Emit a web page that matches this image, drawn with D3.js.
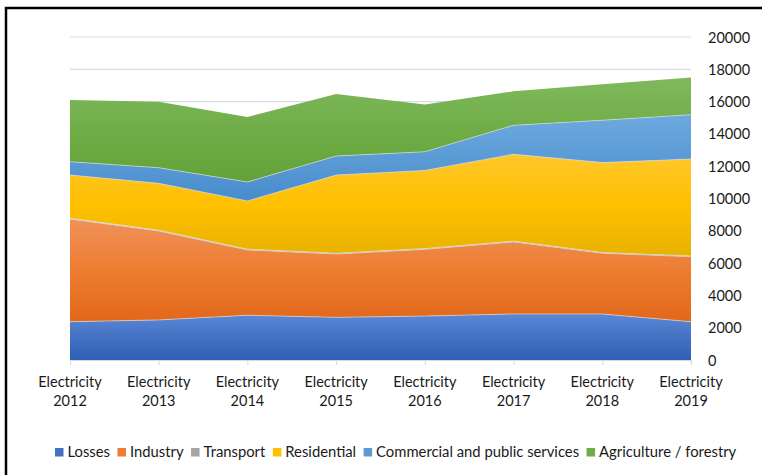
<!DOCTYPE html>
<html>
<head>
<meta charset="utf-8">
<script src="https://cdn.jsdelivr.net/npm/d3@7/dist/d3.min.js"></script>
<style>
  html, body { margin: 0; padding: 0; background: #fff; }
  svg { display: block; }
  text { font-family: Lato, "Open Sans", sans-serif; fill: #1a1a1a; }
</style>
</head>
<body>
<svg id="chart" width="762" height="475"></svg>
<script>
// Electricity consumption by sector (stacked areas)
const categories = ["Electricity 2012", "Electricity 2013", "Electricity 2014", "Electricity 2015",
                    "Electricity 2016", "Electricity 2017", "Electricity 2018", "Electricity 2019"];
const seriesNames = ["Losses", "Industry", "Transport", "Residential",
                     "Commercial and public services", "Agriculture / forestry"];
const losses      = [2370, 2480, 2770, 2640, 2720, 2850, 2850, 2370];
const industry    = [6360, 5510, 4045, 3920, 4130, 4460, 3760, 4025];
const transport   = [50, 50, 50, 50, 50, 50, 50, 50];
const residential = [2675, 2900, 2985, 4840, 4840, 5380, 5565, 6000];
const commercial  = [825, 965, 1175, 1180, 1155, 1795, 2620, 2745];
const agriculture = [3820, 4090, 4025, 3840, 2930, 2100, 2230, 2310];
const yTicks = [0, 2000, 4000, 6000, 8000, 10000, 12000, 14000, 16000, 18000, 20000];

const seriesValues = [losses, industry, transport, residential, commercial, agriculture];
const colors = ["#4472C4", "#ED7D31", "#A5A5A5", "#FFC000", "#5B9BD5", "#70AD47"];
const gradStops = [
  ["#5b87d6", "#2f5fb6"],
  ["#f1915a", "#e2671a"],
  ["#b5b5b5", "#959595"],
  ["#ffc72b", "#e8b200"],
  ["#6da9e0", "#488ccd"],
  ["#80b95d", "#62a238"]
];

const rows = categories.map((c, i) => {
  const r = { cat: c };
  seriesNames.forEach((s, k) => r[s] = seriesValues[k][i]);
  return r;
});
const stacked = d3.stack().keys(seriesNames)(rows);

const svg = d3.select("#chart");

// outer frame
svg.append("rect")
  .attr("x", 6).attr("y", 8).attr("width", 900).attr("height", 600)
  .attr("fill", "none").attr("stroke", "#000").attr("stroke-width", 2.5);

const x = d3.scalePoint().domain(categories).range([70, 691]);
const y = d3.scaleLinear().domain([0, 20000]).range([360, 37]);

// gradients
const defs = svg.append("defs");
seriesNames.forEach((s, k) => {
  const g = defs.append("linearGradient")
    .attr("id", "grad" + k).attr("x1", 0).attr("y1", 0).attr("x2", 0).attr("y2", 1);
  g.append("stop").attr("offset", "0%").attr("stop-color", gradStops[k][0]);
  g.append("stop").attr("offset", "50%").attr("stop-color", colors[k]);
  g.append("stop").attr("offset", "100%").attr("stop-color", gradStops[k][1]);
});

// gridlines
svg.append("g").selectAll("line").data(yTicks.slice(1)).join("line")
  .attr("x1", 70).attr("x2", 691)
  .attr("y1", d => y(d)).attr("y2", d => y(d))
  .attr("stroke", "#d9dde3").attr("stroke-width", 1.2);

// stacked areas
const area = d3.area()
  .x((d, i) => x(categories[i]))
  .y0(d => y(d[0]))
  .y1(d => y(d[1]));

const line = d3.line()
  .x((d, i) => x(categories[i]))
  .y(d => y(d[1]));

svg.append("g").selectAll("path").data(stacked).join("path")
  .attr("d", area)
  .attr("fill", (d, k) => `url(#grad${k})`);

svg.append("g").selectAll("path").data(stacked.slice(0, 5)).join("path")
  .attr("d", line)
  .attr("fill", "none")
  .attr("stroke", "rgba(225,225,225,0.75)")
  .attr("stroke-width", 0.8);

// category axis
const xAxis = svg.append("g").attr("transform", "translate(0,360)")
  .call(d3.axisBottom(x).tickSize(5).tickFormat(""));
xAxis.select(".domain").attr("stroke", "#d9d9d9").attr("stroke-width", 1.2);
xAxis.selectAll(".tick line").attr("stroke", "#d9d9d9");

const catLabels = svg.append("g").selectAll("text").data(categories).join("text")
  .attr("text-anchor", "middle")
  .attr("font-size", 14.5)
  .attr("x", d => x(d));
catLabels.append("tspan").attr("x", d => x(d)).attr("y", 387).text(d => d.split(" ")[0]);
catLabels.append("tspan").attr("x", d => x(d)).attr("y", 406).text(d => d.split(" ")[1]);

// value axis labels on the right
const yAxis = svg.append("g").attr("transform", "translate(708,0)")
  .call(d3.axisRight(y).tickValues(yTicks).tickSize(0).tickPadding(0).tickFormat(d3.format("d")));
yAxis.select(".domain").remove();
yAxis.selectAll("text")
  .attr("font-size", 14.5)
  .attr("font-family", "Lato, 'Open Sans', sans-serif")
  .attr("fill", "#1a1a1a")
  .attr("dy", "0.35em");

// legend
const legend = svg.append("g");
let lx = 55;
seriesNames.forEach((s, k) => {
  const it = legend.append("g").attr("transform", `translate(${lx},0)`);
  it.append("rect").attr("x", 0).attr("y", 448).attr("width", 8.5).attr("height", 8.5)
    .attr("fill", colors[k]);
  const t = it.append("text").attr("x", 12.5).attr("y", 457).attr("font-size", 14.8).text(s);
  lx += 12.5 + t.node().getComputedTextLength() + 7.5;
});
</script>
</body>
</html>
